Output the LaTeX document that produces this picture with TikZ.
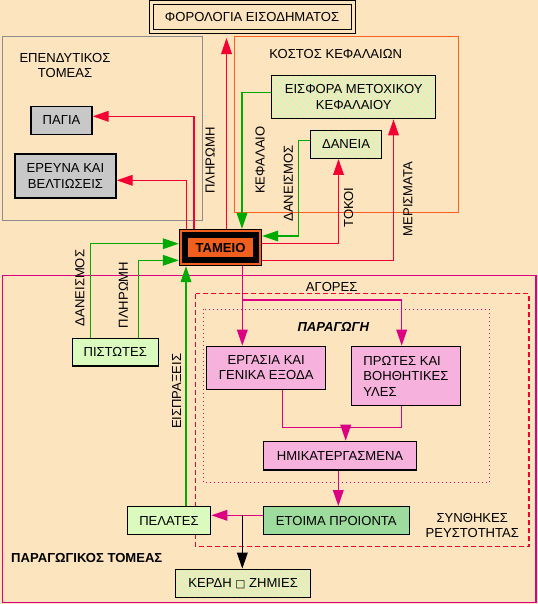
\documentclass[tikz,border=0pt]{standalone}
\usepackage{fontspec}
\setmainfont{Liberation Sans}
\newfontfamily\symfont{DejaVu Sans}
\usetikzlibrary{arrows.meta,patterns.meta,calc}

\definecolor{bgcol}{RGB}{252,228,190}
\definecolor{linered}{RGB}{245,0,50}
\definecolor{linegreen}{RGB}{0,170,0}
\definecolor{linemag}{RGB}{220,0,130}
\definecolor{frameorange}{RGB}{255,95,30}
\definecolor{framegray}{RGB}{140,140,140}
\definecolor{tameioorange}{RGB}{240,95,30}
\definecolor{boxgray}{RGB}{200,200,200}
\definecolor{boxgreen}{RGB}{218,250,190}
\definecolor{hatchgreen}{RGB}{212,246,186}
\definecolor{pinkbg}{RGB}{255,232,248}
\definecolor{dotgreen}{RGB}{0,150,0}
\definecolor{greenbg}{RGB}{205,242,205}

\tikzset{every picture/.style={line width=0.75pt}}

\begin{document}
\begin{tikzpicture}[x=0.75pt,y=0.75pt,yscale=-1,xscale=1,
  font=\fontsize{9.8}{11.6}\selectfont,
  box/.style={draw, line width=1pt, inner sep=2pt, align=center},
  graybox/.style={box, fill=boxgray},
  greenbox/.style={box, fill=boxgreen},
  hatchbox/.style={box, pattern={Lines[angle=-45,distance=3.2pt,line width=1.6pt]}, pattern color=hatchgreen},
  pinkbox/.style={box, preaction={fill=pinkbg}, pattern={Dots[distance=1.5pt,radius=0.4pt]}, pattern color=linemag},
  dotbox/.style={box, preaction={fill=greenbg}, pattern={Dots[distance=1.5pt,radius=0.5pt]}, pattern color=dotgreen},
  label/.style={inner sep=0pt, align=center},
  vlabel/.style={inner sep=0pt, rotate=90},
  tip/.style={-{Triangle[length=12pt,width=8pt]}},
  redarr/.style={draw=linered, line width=1pt, tip},
  grnarr/.style={draw=linegreen, line width=1pt, tip},
  magarr/.style={draw=linemag, line width=1pt, tip},
  magline/.style={draw=linemag, line width=1pt},
  blkarr/.style={draw=black, line width=1pt, tip}]
\useasboundingbox (0,0) rectangle (538,604);
\fill[bgcol] (0,0) rectangle (538,604);

%Shape: Rectangle [ependytikos]
\draw[framegray] (2.5,36.7) rectangle (202,220);
%Shape: Rectangle [kostos]
\draw[frameorange] (234.7,36.7) rectangle (458.3,212);
%Shape: Rectangle [paragogikos]
\draw[linemag, line width=1pt] (2.5,275.3) rectangle (536,602.7);
%Shape: Rectangle [agores]
\draw[linered, line width=1pt, dash pattern={on 3.75pt off 2.25pt}] (195.7,293.7) rectangle (529,546.7);
%Shape: Rectangle [paragogi]
\draw[linemag, line width=1pt, dash pattern={on 0.75pt off 2.25pt}] (203.3,309.3) rectangle (489.3,482.7);

% Text Node
\node[box, line width=0.75pt, double=bgcol, double distance=2.25pt, minimum width=151.5pt, minimum height=21.75pt] (foro) at (252,17) {ΦΟΡΟΛΟΓΙΑ ΕΙΣΟΔΗΜΑΤΟΣ};
% Text Node
\node[label] (ependytikos) at (65,65.3) {ΕΠΕΝΔΥΤΙΚΟΣ\\ΤΟΜΕΑΣ};
% Text Node
\node[graybox, minimum width=45.75pt, minimum height=21pt] (pagia) at (61.5,120.3) {ΠΑΓΙΑ};
% Text Node
\node[graybox, minimum width=75.75pt, minimum height=33pt] (ereuna) at (65.5,176) {ΕΡΕΥΝΑ ΚΑΙ\\ΒΕΛΤΙΩΣΕΙΣ};
% Text Node
\node[label] (kostos) at (335.7,54.3) {ΚΟΣΤΟΣ ΚΕΦΑΛΑΙΩΝ};
% Text Node
\node[hatchbox, minimum width=123pt, minimum height=32pt] (eisfora) at (353.7,97) {ΕΙΣΦΟΡΑ ΜΕΤΟΧΙΚΟΥ\\ΚΕΦΑΛΑΙΟΥ};
% Text Node
\node[hatchbox, minimum width=53.5pt, minimum height=21pt] (daneia) at (346,144.3) {ΔΑΝΕΙΑ};
% Text Node
\node[draw, fill=tameioorange, line width=0.75pt, minimum width=61.8pt, minimum height=27.3pt, font=\fontsize{9.8}{11.6}\selectfont\bfseries] (tameio) at (220.5,247.5) {ΤΑΜΕΙΟ};
\draw[line width=4.5pt] ($(tameio.north west)+(6.4,6.4)$) rectangle ($(tameio.south east)+(-6.4,-6.4)$);
% Text Node
\node[greenbox, minimum width=64.5pt, minimum height=20.8pt] (pistotes) at (115.3,352.2) {ΠΙΣΤΩΤΕΣ};
% Text Node
\node[label] (agores) at (331.7,287.3) {ΑΓΟΡΕΣ};
% Text Node
\node[label, font=\fontsize{9.8}{11.6}\selectfont\bfseries\itshape] (paragogi) at (333.3,326.7) {ΠΑΡΑΓΩΓΗ};
% Text Node
\node[pinkbox, minimum width=89.25pt, minimum height=32.25pt] (ergasia) at (266.2,367.8) {ΕΡΓΑΣΙΑ ΚΑΙ\\ΓΕΝΙΚΑ ΕΞΟΔΑ};
% Text Node
\node[pinkbox, align=left, minimum width=81.45pt, minimum height=44.55pt] (protes) at (406,376) {ΠΡΩΤΕΣ ΚΑΙ\\ΒΟΗΘΗΤΙΚΕΣ\\ΥΛΕΣ};
% Text Node
\node[pinkbox, minimum width=115pt, minimum height=21.5pt] (hmikat) at (340,455.7) {ΗΜΙΚΑΤΕΡΓΑΣΜΕΝΑ};
% Text Node
\node[dotbox, minimum width=109.5pt, minimum height=20.7pt] (etoima) at (336.3,520.5) {ΕΤΟΙΜΑ ΠΡΟΙΟΝΤΑ};
% Text Node
\node[greenbox, minimum width=62.5pt, minimum height=20.7pt] (pelates) at (169,520.5) {ΠΕΛΑΤΕΣ};
% Text Node
\node[hatchbox, minimum width=101.25pt, minimum height=21pt] (kerdi) at (243.2,583.3) {ΚΕΡΔΗ {\symfont\fontsize{8}{8}\selectfont □} ΖΗΜΙΕΣ};
% Text Node
\node[label] (synthikes) at (472.3,525.7) {ΣΥΝΘΗΚΕΣ\\ΡΕΥΣΤΟΤΗΤΑΣ};
% Text Node
\node[label, anchor=west, font=\fontsize{9.8}{11.6}\selectfont\bfseries] (paragogikos) at (10.7,558.3) {ΠΑΡΑΓΩΓΙΚΟΣ ΤΟΜΕΑΣ};

% Text Node
\node[vlabel] (plhrwmh) at (210,160.5) {ΠΛΗΡΩΜΗ};
% Text Node
\node[vlabel] (kefalaio) at (260,160) {ΚΕΦΑΛΑΙΟ};
% Text Node
\node[vlabel] (daneismos) at (288.5,183.3) {ΔΑΝΕΙΣΜΟΣ};
% Text Node
\node[vlabel] (tokoi) at (348.5,207.5) {ΤΟΚΟΙ};
% Text Node
\node[vlabel] (merismata) at (408,199) {ΜΕΡΙΣΜΑΤΑ};
% Text Node
\node[vlabel] (pdaneismos) at (80,288) {ΔΑΝΕΙΣΜΟΣ};
% Text Node
\node[vlabel] (pplhrwmh) at (123.3,295) {ΠΛΗΡΩΜΗ};
% Text Node
\node[vlabel] (eispraxeis) at (176.7,391.3) {ΕΙΣΠΡΑΞΕΙΣ};

% Connection
\coordinate (jf) at (226.5,0);
\draw[redarr, shorten >=4.5pt] (jf |- tameio.north) -- (jf |- foro.south);
% Connection
\coordinate (jp) at (194,116.3);
\draw[redarr] (jp |- tameio.north) -- (jp) -- (jp -| pagia.east);
% Connection
\coordinate (je) at (186.5,180.3);
\draw[redarr] (je |- tameio.north) -- (je) -- (je -| ereuna.east);
% Connection
\coordinate (jk) at (242,92.5);
\draw[grnarr] (jk -| eisfora.west) -- (jk) -- (jk |- tameio.north);
% Connection
\coordinate (jd) at (298.5,140.3);
\coordinate (jd2) at (298.5,236);
\draw[grnarr] (jd -| daneia.west) -- (jd) -- (jd2) -- (jd2 -| tameio.east);
% Connection
\coordinate (jt) at (338.5,243.7);
\draw[redarr] (jt -| tameio.east) -- (jt) -- (jt |- daneia.south);
% Connection
\coordinate (jm) at (393.5,260.3);
\draw[redarr] (jm -| tameio.east) -- (jm) -- (jm |- eisfora.south);
% Connection
\coordinate (jpd) at (90.7,243.7);
\draw[grnarr] (jpd |- pistotes.north) -- (jpd) -- (jpd -| tameio.west);
% Connection
\coordinate (jpp) at (138.3,260.3);
\draw[grnarr] (jpp |- pistotes.north) -- (jpp) -- (jpp -| tameio.west);
% Connection
\coordinate (jei) at (186,0);
\draw[grnarr] (jei |- pelates.north) -- (jei |- tameio.south);
% Connection
\coordinate (jg) at (242.3,300);
\coordinate (jg2) at (401.7,300);
\draw[magarr] (jg |- tameio.south) -- (jg |- ergasia.north);
\draw[magarr] (jg) -- (jg2) -- (jg2 |- protes.north);
% Connection
\coordinate (jh) at (282.3,427.3);
\coordinate (jh2) at (401.7,427.3);
\coordinate (jh3) at (345.7,427.3);
\draw[magline] (jh |- ergasia.south) -- (jh) -- (jh2) -- (jh2 |- protes.south);
\draw[magarr] (jh3) -- (jh3 |- hmikat.north);
% Connection
\coordinate (jr) at (338.3,0);
\draw[magarr] (jr |- hmikat.south) -- (jr |- etoima.north);
% Connection
\coordinate (jl) at (242.3,515.3);
\draw[magarr] (jl -| etoima.west) -- (jl -| pelates.east);
\draw[blkarr] (jl) -- (jl |- kerdi.north);

\end{tikzpicture}
\end{document}
